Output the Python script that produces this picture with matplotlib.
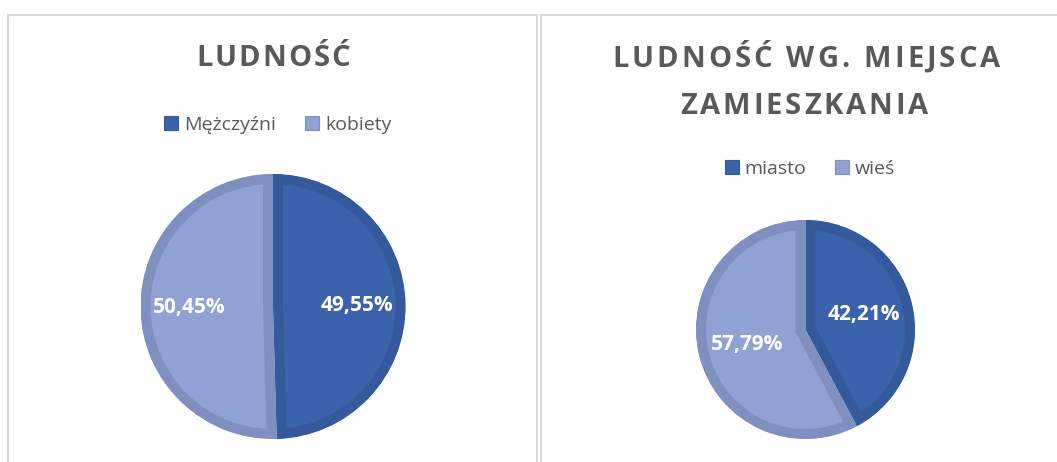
import matplotlib.pyplot as plt
from matplotlib import font_manager, ft2font
from matplotlib.patches import Patch, Rectangle

# data
sex_labels = ["Mężczyźni", "kobiety"]
sex_values = [49.55, 50.45]
place_labels = ["miasto", "wieś"]
place_values = [42.21, 57.79]

fills = ["#3A63AC", "#8FA2D3"]
edges = ["#345A9B", "#7F8FBF"]
grey = "#595959"

plt.rcParams['font.family'] = ['Open Sans', 'DejaVu Sans']

W, H = 1057, 462
fig = plt.figure(figsize=(W / 100, H / 100), dpi=100)


def px_axes(cx, cy, r):
    # axes box in pixel coords (y from top) -> figure fraction
    return fig.add_axes([(cx - r) / W, (H - cy - r) / H, 2 * r / W, 2 * r / H])


def fmt(p):
    return f"{p:.2f}%".replace('.', ',')


def draw_pie(ax, values, pctdist):
    wedges, _, autotexts = ax.pie(values, colors=fills, startangle=90, counterclock=False,
                                  autopct=fmt, pctdistance=pctdist,
                                  wedgeprops=dict(linewidth=14.4))
    # border drawn only on the inside of each slice, like Excel
    for w, ec in zip(wedges, edges):
        w.set_edgecolor(ec)
        w.set_clip_path(w)
        w.set_clip_on(True)
    for t in autotexts:
        t.set_color('white')
        t.set_fontsize(15)
        t.set_fontweight('bold')
    ax.set_xlim(-1, 1)
    ax.set_ylim(-1, 1)
    ax.set_aspect('equal')
    ax.axis('off')


# titles are letter-spaced in the original, so lay them out char by char
title_fp = font_manager.FontProperties(family='Open Sans', weight='bold')
title_font = ft2font.FT2Font(font_manager.findfont(title_fp))
TITLE_SIZE = 21
title_font.set_size(TITLE_SIZE, 100)


def spaced_title(text, cx, y, width):
    adv = [title_font.load_char(ord(c)).linearHoriAdvance / 65536 for c in text]
    spacing = (width - sum(adv)) / (len(text) - 1)
    x = cx - width / 2
    for c, a in zip(text, adv):
        fig.text(x / W, 1 - y / H, c, ha='left', va='baseline', fontproperties=title_fp,
                 fontsize=TITLE_SIZE, color=grey)
        x += a + spacing


# panel borders
fig.patches.append(Rectangle((8 / W, -0.1), 529 / W, 1.1 - 15 / H, transform=fig.transFigure,
                             fill=False, edgecolor="#D9D9D9", linewidth=1.5))
fig.patches.append(Rectangle((541 / W, -0.1), 0.6, 1.1 - 15 / H, transform=fig.transFigure,
                             fill=False, edgecolor="#D9D9D9", linewidth=1.5))

ax1 = px_axes(273, 306.5, 132.5)
draw_pie(ax1, sex_values, 0.63)
ax2 = px_axes(805.5, 329.5, 109.5)
draw_pie(ax2, place_values, 0.55)

spaced_title("LUDNOŚĆ", 273, 66, 154)
spaced_title("LUDNOŚĆ WG. MIEJSCA", 806, 67, 388)
spaced_title("ZAMIESZKANIA", 804, 114, 248)


def legend(labels, cx, cy):
    handles = [Patch(facecolor=f, edgecolor=e, linewidth=0.8) for f, e in zip(fills, edges)]
    fig.legend(handles, labels, loc='center', bbox_to_anchor=(cx / W, 1 - cy / H), ncol=2,
               frameon=False, fontsize=14, labelcolor=grey, handlelength=0.72,
               handleheight=0.72, handletextpad=0.3, columnspacing=1.5)


legend(sex_labels, 278, 125)
legend(place_labels, 810, 169)

fig.savefig("out.png", dpi=100)
